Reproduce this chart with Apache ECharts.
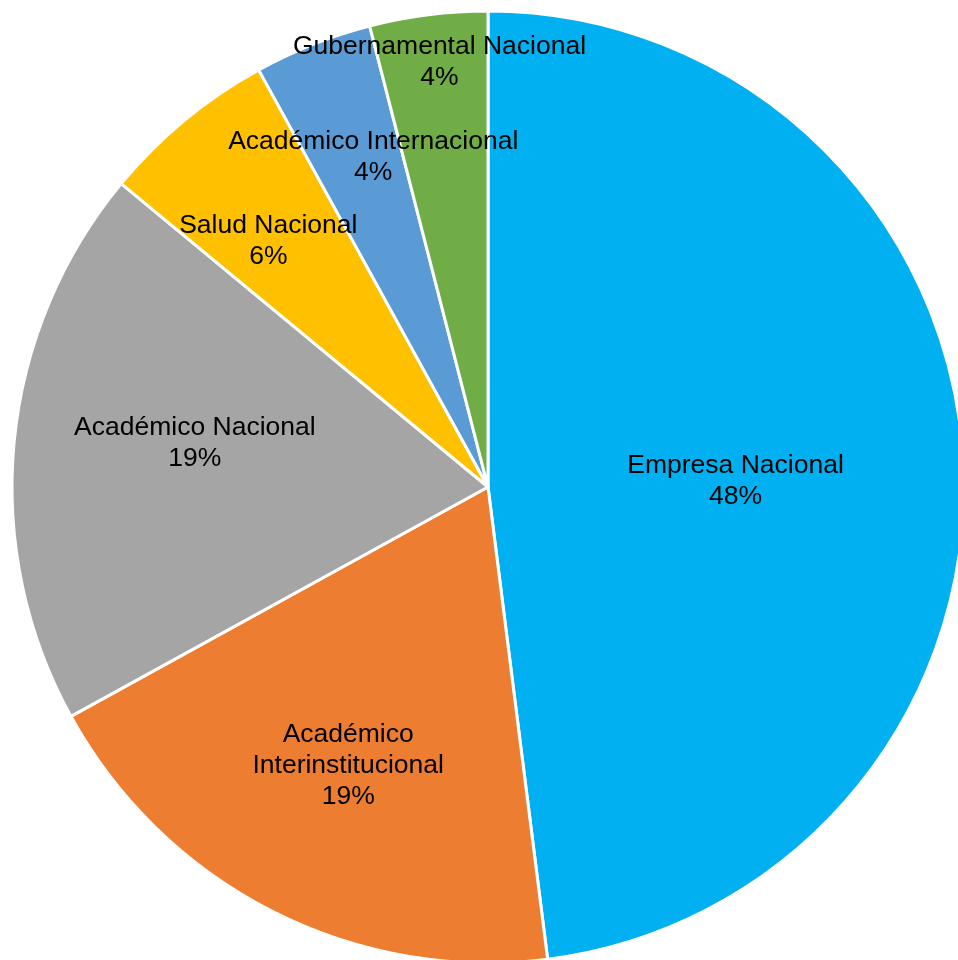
<!DOCTYPE html>
<html>
<head>
<meta charset="utf-8">
<style>
  html, body { margin: 0; padding: 0; background: #ffffff; }
  #chart { width: 958px; height: 960px; }
</style>
<script src="https://cdn.jsdelivr.net/npm/echarts@6/dist/echarts.min.js"></script>
</head>
<body>
<div id="chart"></div>
<script>
// Participación por tipo de vinculación (%)
const categories = [
  'Empresa Nacional',
  'Académico\nInterinstitucional',
  'Académico Nacional',
  'Salud Nacional',
  'Académico Internacional',
  'Gubernamental Nacional'
];
const values = [48, 19, 19, 6, 4, 4];
const colors = ['#00B0F0', '#ED7D31', '#A5A5A5', '#FFC000', '#5B9BD5', '#70AD47'];
// radial position of each label, as a fraction of the pie radius
const labelRadius = [0.519, 0.65, 0.625, 0.698, 0.74, 0.907];
// small nudges of each label from its slice's bisector, in px
const labelNudge = [[-2, 10], [2, 0], [6, -16], [-6, 13], [16, 0], [6, 6]];

const CENTER = [488, 487];
const R = 476;

const chart = echarts.init(document.getElementById('chart'), null, { renderer: 'canvas' });

const slices = {
  type: 'pie',
  center: CENTER,
  radius: [0, R],
  startAngle: 90,
  clockwise: true,
  silent: true,
  avoidLabelOverlap: false,
  label: { show: false },
  labelLine: { show: false },
  itemStyle: { borderColor: '#ffffff', borderWidth: 3 },
  data: categories.map((name, i) => ({
    name, value: values[i], itemStyle: { color: colors[i] }
  }))
};

// one transparent ring per label so each text sits at its own radius
const labelRings = categories.map((_, i) => {
  const f = labelRadius[i];
  return {
    type: 'pie',
    center: CENTER,
    radius: [(2 * f - 1) * R, R],
    startAngle: 90,
    clockwise: true,
    silent: true,
    avoidLabelOverlap: false,
    z: 3,
    itemStyle: { color: 'rgba(0,0,0,0)', borderWidth: 0 },
    labelLine: { show: false },
    data: categories.map((name, j) => ({
      name,
      value: values[j],
      label: {
        show: j === i,
        position: 'inside',
        offset: labelNudge[j],
        formatter: p => p.name + '\n' + p.value + '%',
        color: '#000000',
        fontFamily: '"Liberation Sans", Arial, sans-serif',
        fontSize: 26.5,
        lineHeight: 31,
        align: 'center'
      }
    }))
  };
});

chart.setOption({
  animation: false,
  backgroundColor: '#ffffff',
  series: [slices, ...labelRings]
});
</script>
</body>
</html>
